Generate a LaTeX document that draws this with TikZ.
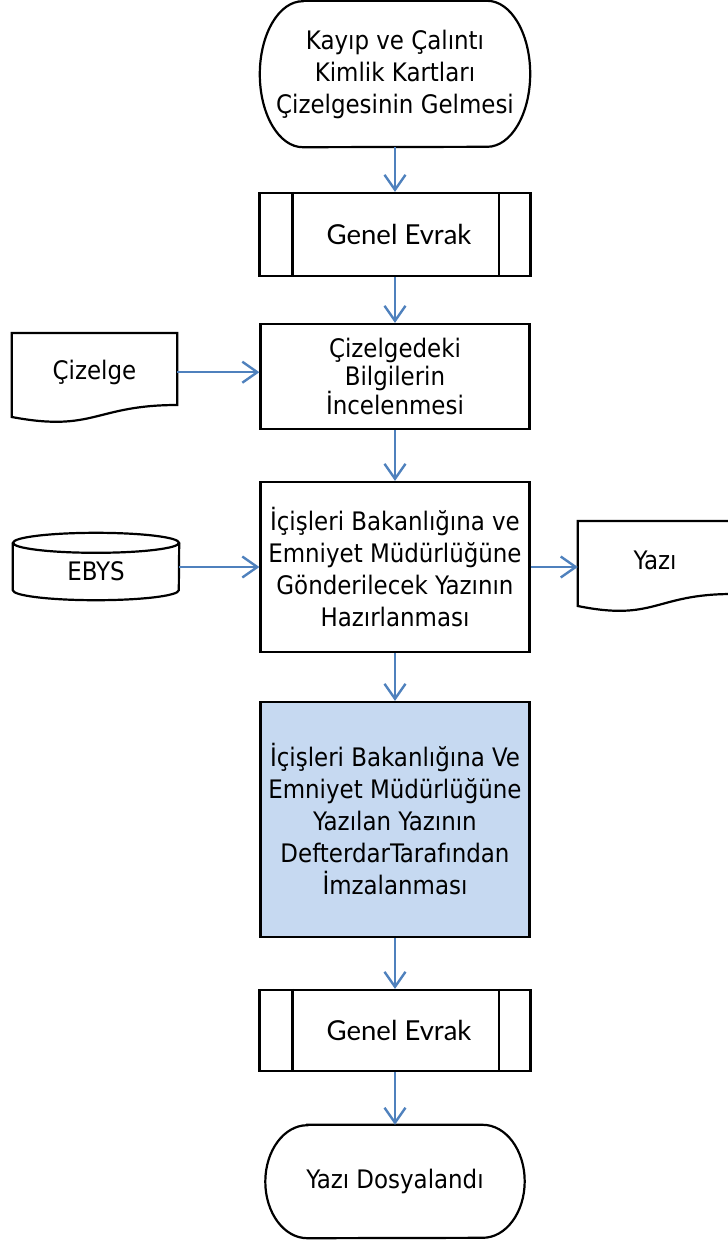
\documentclass[tikz,border=0pt]{standalone}
\usepackage{fontspec}
\setmainfont{DejaVu Sans Condensed}
\newfontfamily\evrakfont{Lato}
\usetikzlibrary{arrows.meta,calc}
\definecolor{akis}{HTML}{4F81BD}
\definecolor{imza}{HTML}{C6D9F1}

\begin{document}
\begin{tikzpicture}[x=1pt,y=-1pt,
  every node/.style={font=\fontsize{25.5}{32}\selectfont, align=center, inner sep=0pt},
  cizgi/.style={line width=2.2pt},
  kutu/.style={draw, cizgi, minimum width=269pt},
  evrak/.style={kutu, minimum width=271pt, font=\evrakfont\fontsize{27.5}{32}\selectfont},
  belge/.style={minimum width=#1, minimum height=78pt, anchor=north},
  ok/.style={draw=akis, line width=2.4pt, -{Straight Barb[length=15pt,width=21pt]}}]
  \useasboundingbox (0,0) rectangle (728,1243);
  % main column
  \node[minimum width=270pt, minimum height=146pt] (bas) at (395,74) {Kay\i p ve \c Cal\i nt\i\\Kimlik Kartlar\i\\\c Cizelgesinin Gelmesi};
  \draw[cizgi] ($(bas.north west)+(43,0)$) -- ($(bas.north east)+(-43,0)$)
    arc[start angle=90, end angle=-90, x radius=43pt, y radius=73pt]
    -- ($(bas.south west)+(43,0)$)
    arc[start angle=270, end angle=90, x radius=43pt, y radius=73pt] -- cycle;
  \node[evrak, minimum height=83pt] (ge1) at (395,234.5) {\hspace{8pt}Genel Evrak};
  \draw[cizgi] ($(ge1.north west)+(34,0)$) -- ($(ge1.south west)+(34,0)$);
  \draw[cizgi] ($(ge1.north east)+(-33,0)$) -- ($(ge1.south east)+(-33,0)$);
  \node[kutu, minimum height=105pt, font=\fontsize{25.5}{28}\selectfont] (cb) at (395,376.5) {\c Cizelgedeki\\Bilgilerin\\\.Incelenmesi};
  \node[kutu, minimum height=170pt] (ic) at (395,567) {\.I\c ci\c sleri Bakanl\i\u g\i na ve\\Emniyet M\"ud\"url\"u\u g\"une\\G\"onderilecek Yaz\i n\i n\\Haz\i rlanmas\i};
  \node[kutu, fill=imza, minimum height=235pt] (bb) at (395,819.5) {\.I\c ci\c sleri Bakanl\i\u g\i na Ve\\Emniyet M\"ud\"url\"u\u g\"une\\Yaz\i lan Yaz\i n\i n\\DefterdarTaraf\i ndan\\\.Imzalanmas\i};
  \node[evrak, minimum height=81pt] (ge2) at (395,1030.5) {\hspace{8pt}Genel Evrak};
  \draw[cizgi] ($(ge2.north west)+(34,0)$) -- ($(ge2.south west)+(34,0)$);
  \draw[cizgi] ($(ge2.north east)+(-33,0)$) -- ($(ge2.south east)+(-33,0)$);
  \node[minimum width=259pt, minimum height=113pt] (son) at (395,1181.5) {Yaz\i\ Dosyaland\i};
  \draw[cizgi] ($(son.north west)+(42,0)$) -- ($(son.north east)+(-42,0)$)
    arc[start angle=90, end angle=-90, x radius=42pt, y radius=56.5pt]
    -- ($(son.south west)+(42,0)$)
    arc[start angle=270, end angle=90, x radius=42pt, y radius=56.5pt] -- cycle;
  % side shapes
  \node[belge=165pt] (cz) at (94.5,333) {\c Cizelge};
  \draw[cizgi] (cz.north west) -- (cz.north east) -- ($(cz.north east)+(0,72)$)
    .. controls ($(cz.north)+(0,72)$) and ($(cz.north)+(0,99.6)$) .. ($(cz.north west)+(0,84)$) -- cycle;
  \node[minimum width=166pt, minimum height=57pt] (eb) at (96,571.5) {EBYS};
  \draw[cizgi] (eb.north) ellipse[x radius=83pt, y radius=10pt];
  \draw[cizgi] (eb.north west) -- ($(eb.south west)+(0,-10)$)
    arc[start angle=180, end angle=360, x radius=83pt, y radius=10pt] -- (eb.north east);
  \node[belge=154pt] (yz) at (655,521) {Yaz\i};
  \draw[cizgi] (yz.north west) -- (yz.north east) -- ($(yz.north east)+(0,73)$)
    .. controls ($(yz.north)+(0,73)$) and ($(yz.north)+(0,100.7)$) .. ($(yz.north west)+(0,85)$) -- cycle;
  % connectors
  \draw[ok] (bas.south) -- (ge1.north);
  \draw[ok] (ge1.south) -- (cb.north);
  \draw[ok] (cb.south) -- (ic.north);
  \draw[ok] (ic.south) -- (bb.north);
  \draw[ok] (bb.south) -- (ge2.north);
  \draw[ok] (ge2.south) -- (son.north);
  \draw[ok] (cz.east) -- (cb.west |- cz.east);
  \draw[ok] (eb.east |- ic.west) -- (ic.west);
  \draw[ok] (ic.east) -- (yz.west |- ic.east);
\end{tikzpicture}
\end{document}
